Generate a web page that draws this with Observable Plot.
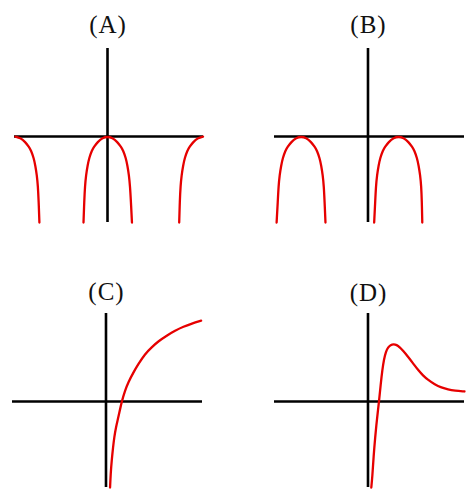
<!DOCTYPE html>
<html>
<head>
<meta charset="utf-8">
<script src="https://cdn.jsdelivr.net/npm/d3@7"></script>
<script src="https://cdn.jsdelivr.net/npm/@observablehq/plot@0.6"></script>
<style>
html, body { margin: 0; padding: 0; background: #fff; }
#chart { position: relative; width: 471px; height: 494px; overflow: hidden; }
#chart svg { position: absolute; }
</style>
</head>
<body>
<div id="chart"></div>
<script>
// Panel labels
const labels = ["(A)", "(B)", "(C)", "(D)"];

// Shared axis extents (data units, origin at the axes crossing)
const xDomain = [-6.2, 6.4];
const yDomain = [-4.0, 4.1];

// Panel A: three branches
const aLeftX  = [-6.14, -5.81, -5.48, -5.24, -5.09, -4.92, -4.81, -4.71, -4.64, -4.59, -4.54];
const aLeftY  = [0, -0.06, -0.25, -0.48, -0.65, -1.0, -1.35, -1.8, -2.3, -3.0, -4.0];
const aMidX   = [-1.60, -1.55, -1.50, -1.43, -1.33, -1.22, -1.05, -0.90, -0.66, -0.33, 0, 0.33, 0.66, 0.90, 1.05, 1.22, 1.33, 1.43, 1.50, 1.56, 1.63];
const aMidY   = [-4.0, -3.0, -2.3, -1.8, -1.35, -1.0, -0.65, -0.48, -0.25, -0.06, 0, -0.06, -0.25, -0.48, -0.65, -1.0, -1.35, -1.8, -2.3, -3.0, -4.0];
const aRightX = [6.37, 6.04, 5.71, 5.47, 5.32, 5.15, 5.04, 4.94, 4.87, 4.82, 4.78];
const aRightY = [0, -0.06, -0.25, -0.48, -0.65, -1.0, -1.35, -1.8, -2.3, -3.0, -4.0];

// Panel B: two arches
const bLeftX  = [-6.06, -5.98, -5.93, -5.86, -5.76, -5.65, -5.48, -5.33, -5.09, -4.76, -4.43, -4.10, -3.77, -3.53, -3.38, -3.21, -3.10, -3.00, -2.93, -2.88, -2.82];
const bLeftY  = [-4.0, -3.0, -2.3, -1.8, -1.35, -1.0, -0.65, -0.48, -0.25, -0.06, 0, -0.06, -0.25, -0.48, -0.65, -1.0, -1.35, -1.8, -2.3, -3.0, -4.0];
const bRightX = [0.41, 0.48, 0.53, 0.60, 0.70, 0.81, 0.98, 1.13, 1.37, 1.70, 2.03, 2.36, 2.69, 2.93, 3.08, 3.25, 3.36, 3.46, 3.53, 3.57, 3.60];
const bRightY = [-4.0, -3.0, -2.3, -1.8, -1.35, -1.0, -0.65, -0.48, -0.25, -0.06, 0, -0.06, -0.25, -0.48, -0.65, -1.0, -1.35, -1.8, -2.3, -3.0, -4.0];

// Panel C: one increasing branch
const cX = [0.27, 0.31, 0.38, 0.47, 0.55, 0.66, 0.82, 1.04, 1.26, 1.48, 1.82, 2.15, 2.59, 3.03, 3.48, 4.03, 4.58, 5.14, 5.69, 6.31];
const cY = [-4.0, -3.36, -2.74, -2.12, -1.66, -1.19, -0.73, 0, 0.51, 0.90, 1.36, 1.75, 2.22, 2.53, 2.81, 3.07, 3.30, 3.49, 3.63, 3.77];

// Panel D: steep rise, peak, slow decay
const dX = [0.22, 0.29, 0.37, 0.48, 0.59, 0.73, 0.84, 0.95, 1.06, 1.19, 1.33, 1.50, 1.70, 1.90, 2.10, 2.32, 2.65, 2.99, 3.32, 3.65, 3.98, 4.43, 4.87, 5.31, 5.76, 6.40];
const dY = [-4.0, -3.49, -2.56, -1.63, -0.85, 0, 0.78, 1.47, 1.97, 2.33, 2.53, 2.64, 2.67, 2.64, 2.53, 2.37, 2.09, 1.78, 1.47, 1.21, 1.01, 0.79, 0.65, 0.56, 0.51, 0.47];

const chart = document.getElementById("chart");

function panel(label, curves, box) {
  const rows = curves.flatMap((c, k) => c[0].map((x, i) => ({x, y: c[1][i], seg: k})));
  const svg = Plot.plot({
    width: box.width,
    height: box.height,
    marginLeft: box.ml,
    marginRight: box.mr,
    marginTop: box.mt,
    marginBottom: box.mb,
    x: {domain: xDomain, axis: null},
    y: {domain: yDomain, axis: null},
    style: {background: "transparent", fontFamily: "'Liberation Serif', 'Times New Roman', serif", letterSpacing: "1px", overflow: "visible"},
    marks: [
      Plot.ruleY([0], {stroke: "#000", strokeWidth: 2.6}),
      Plot.ruleX([0], {stroke: "#000", strokeWidth: 2.6}),
      Plot.line(rows, {x: "x", y: "y", z: "seg", stroke: "#e60000", strokeWidth: 2.3, curve: "basis"}),
      Plot.text([{label, x: 0}], {x: "x", text: "label", frameAnchor: "top", lineAnchor: "bottom", dy: box.dy, dx: 0.5, fontSize: 25, fill: "#111"})
    ]
  });
  svg.style.left = box.left + "px";
  svg.style.top = box.top + "px";
  chart.append(svg);
}

panel(labels[0], [[aLeftX, aLeftY], [aMidX, aMidY], [aRightX, aRightY]],
  {left: 0, top: 0, width: 235, height: 247, ml: 14, mr: 32, mt: 48, mb: 25, dy: -16});
panel(labels[1], [[bLeftX, bLeftY], [bRightX, bRightY]],
  {left: 235, top: 0, width: 236, height: 247, ml: 39, mr: 7, mt: 48, mb: 25, dy: -16});
panel(labels[2], [[cX, cY]],
  {left: 0, top: 247, width: 235, height: 247, ml: 12, mr: 33, mt: 66, mb: 7, dy: -14});
panel(labels[3], [[dX, dY]],
  {left: 235, top: 247, width: 236, height: 247, ml: 39, mr: 7, mt: 66, mb: 7, dy: -13});
</script>
</body>
</html>
